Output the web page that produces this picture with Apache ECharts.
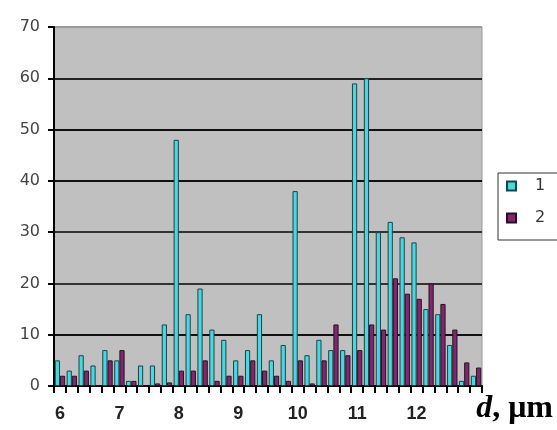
<!DOCTYPE html>
<html>
<head>
<meta charset="utf-8">
<script src="https://cdn.jsdelivr.net/npm/echarts@6/dist/echarts.min.js"></script>
<style>html,body{margin:0;padding:0;background:#fff}#c{width:557px;height:430px}</style>
</head>
<body>
<div id="c"></div>
<script>
// categories: d from 6.0 to 13.0 µm in steps of 0.2
var categories = ['6.0','6.2','6.4','6.6','6.8','7.0','7.2','7.4','7.6','7.8',
                  '8.0','8.2','8.4','8.6','8.8','9.0','9.2','9.4','9.6','9.8',
                  '10.0','10.2','10.4','10.6','10.8','11.0','11.2','11.4','11.6','11.8',
                  '12.0','12.2','12.4','12.6','12.8','13.0'];
var series1 = [5,3,6,4,7,5,1,4,4,12,48,14,19,11,9,5,7,14,5,8,38,6,9,7,7,59,60,30,32,29,28,15,14,8,1,2];
var series2 = [2,2,3,0,5,7,1,0,0.5,0.7,3,3,5,1,2,2,5,3,2,1,5,0.5,5,12,6,7,12,11,21,18,17,20,16,11,4.6,3.6];
var xTickLabels = ['6','7','8','9','10','11','12'];
var yTicks = [0,10,20,30,40,50,60,70];
var seriesNames = ['1','2'];

var chart = echarts.init(document.getElementById('c'));
chart.setOption({
  animation: false,
  backgroundColor: '#fff',
  grid: {left: 54, right: 75, top: 27, bottom: 44, show: true, backgroundColor: '#C0C0C0', borderColor: '#9a9a9a', borderWidth: 1},
  legend: {
    data: seriesNames, orient: 'vertical', left: 498, top: 173,
    icon: 'rect', itemWidth: 9, itemHeight: 9, itemGap: 16,
    padding: [5, 18, 14, 8],
    borderColor: '#333', borderWidth: 1, backgroundColor: '#fff',
    textStyle: {fontFamily: 'DejaVu Sans', fontSize: 16, color: '#333', padding: [0,0,0,14]}
  },
  xAxis: {
    type: 'category', data: categories,
    axisLine: {lineStyle: {color: '#000', width: 2}},
    axisTick: {show: true, interval: 0, length: 7, lineStyle: {color: '#000', width: 2}},
    axisLabel: {
      interval: 0, margin: 19,
      fontFamily: 'Liberation Sans', fontWeight: 'bold', fontSize: 18, color: '#222',
      formatter: function (v, i) { return i % 5 === 0 ? xTickLabels[i / 5] : ''; }
    }
  },
  yAxis: {
    type: 'value', min: yTicks[0], max: yTicks[yTicks.length - 1], interval: 10,
    axisLine: {show: true, lineStyle: {color: '#000', width: 2}},
    axisTick: {show: true, length: 6, lineStyle: {color: '#000', width: 2}},
    axisLabel: {margin: 14, fontFamily: 'DejaVu Sans', fontSize: 16, color: '#444'},
    splitLine: {show: true, lineStyle: {width: 2, color: ['#000','#111','#333','#333','#111','#111','#222','#9a9a9a']}}
  },
  series: [
    {name: seriesNames[0], type: 'bar', data: series1, barWidth: 5.2, barGap: '0%',
     itemStyle: {color: '#4FD6DD', borderColor: '#12464E', borderWidth: 1}},
    {name: seriesNames[1], type: 'bar', data: series2, barWidth: 5.2,
     itemStyle: {color: '#80296A', borderColor: '#2A0F26', borderWidth: 1}}
  ],
  graphic: [{
    type: 'text', right: 4, top: 393,
    style: {
      text: '{i|d}{b|, μm}',
      rich: {
        i: {fontFamily: 'Liberation Serif', fontStyle: 'italic', fontWeight: 'bold', fontSize: 32, fill: '#000'},
        b: {fontFamily: 'Liberation Serif', fontWeight: 'bold', fontSize: 32, fill: '#000'}
      }
    }
  }]
});
</script>
</body>
</html>
